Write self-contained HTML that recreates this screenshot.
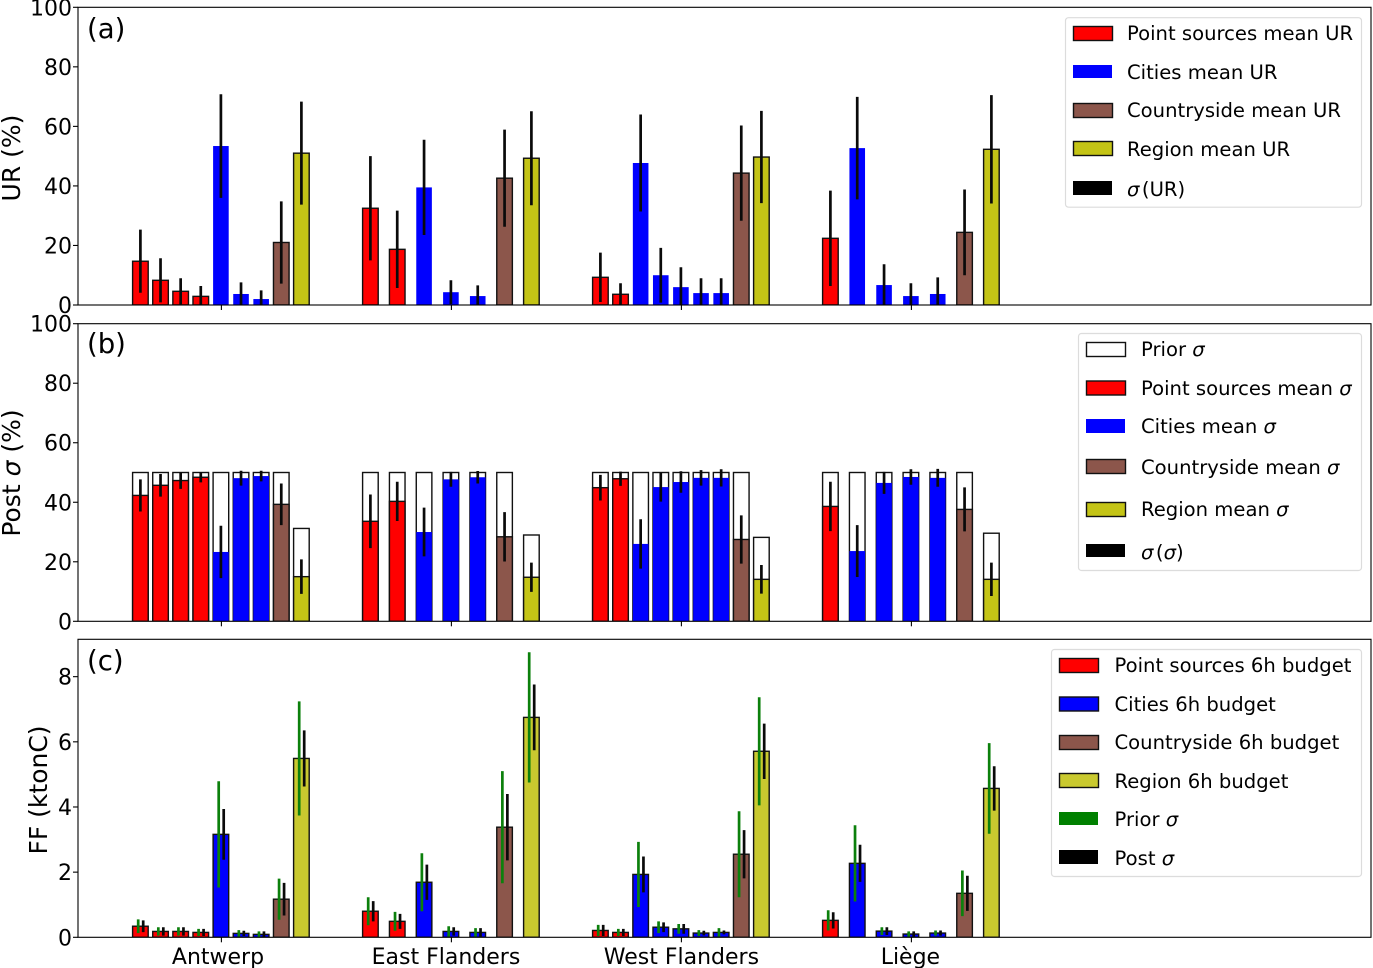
<!DOCTYPE html>
<html lang="en">
<head>
<meta charset="utf-8">
<title>UR, posterior uncertainty and fossil fuel budgets by region</title>
<style>
html,body{margin:0;padding:0;background:#fff;}
svg{display:block;font-family:"DejaVu Sans","Liberation Sans",sans-serif;filter:blur(.3px);}
.tick{font-size:22px;fill:#000;}
.lg{font-size:19.6px;fill:#000;}
.tag{font-size:27.5px;fill:#000;}
.ttl{font-size:25px;fill:#000;}
.xl{font-size:22px;fill:#000;}
.box{fill:#fff;fill-opacity:.8;stroke:#dcdcdc;stroke-width:1.2;}
.pe{stroke:#111;stroke-width:1.4;}
.it{font-style:italic;}
</style>
</head>
<body>
<svg id="chart" xmlns="http://www.w3.org/2000/svg" width="1373" height="968" viewBox="0 0 1373 968">
<defs>
<clipPath id="clip-a"><rect x="78" y="7.3" width="1293" height="297.7"/></clipPath>
<clipPath id="clip-b"><rect x="78" y="323.7" width="1293" height="297.6"/></clipPath>
<clipPath id="clip-c"><rect x="78" y="639.3" width="1293" height="298"/></clipPath>
</defs>
<g id="marks-a" clip-path="url(#clip-a)"></g>
<g id="marks-b" clip-path="url(#clip-b)"></g>
<g id="marks-c" clip-path="url(#clip-c)"></g>
<g id="axes"></g>

<text class="tag" x="87" y="38">(a)</text>
<text class="tag" x="87" y="353">(b)</text>
<text class="tag" x="87" y="670">(c)</text>

<text class="ttl" transform="translate(20,158) rotate(-90)" text-anchor="middle">UR (%)</text>
<text class="ttl" transform="translate(20,473) rotate(-90)" text-anchor="middle">Post <tspan class="it">σ</tspan> (%)</text>
<text class="ttl" transform="translate(47,790) rotate(-90)" text-anchor="middle">FF (ktonC)</text>

<g>
<rect class="box" x="1065.5" y="17.7" width="296" height="189.5" rx="3"/>
<rect class="pe" x="1073.5" y="26.5" width="39" height="14" fill="#ff0000"/>
<text class="lg" x="1127" y="40">Point sources mean UR</text>
<rect x="1073" y="65" width="39" height="13" fill="#0000ff"/>
<text class="lg" x="1127" y="79">Cities mean UR</text>
<rect class="pe" x="1073.5" y="103.5" width="39" height="14" fill="#8c564b"/>
<text class="lg" x="1127" y="117">Countryside mean UR</text>
<rect class="pe" x="1073.5" y="141.5" width="39" height="14" fill="#c4c416"/>
<text class="lg" x="1127" y="156">Region mean UR</text>
<rect x="1073" y="181" width="39" height="14" fill="#000"/>
<text class="lg" x="1127" y="196"><tspan class="it">σ</tspan><tspan dx="2.5">(UR)</tspan></text>
</g>

<g>
<rect class="box" x="1078.5" y="333.5" width="283" height="237" rx="3"/>
<rect class="pe" x="1086.5" y="342.5" width="39" height="14" fill="#fff"/>
<text class="lg" x="1141" y="356">Prior <tspan class="it">σ</tspan></text>
<rect class="pe" x="1086.5" y="381" width="39" height="14" fill="#ff0000"/>
<text class="lg" x="1141" y="395">Point sources mean <tspan class="it">σ</tspan></text>
<rect x="1086" y="419" width="39" height="14" fill="#0000ff"/>
<text class="lg" x="1141" y="433">Cities mean <tspan class="it">σ</tspan></text>
<rect class="pe" x="1086.5" y="459.5" width="39" height="14" fill="#8c564b"/>
<text class="lg" x="1141" y="474">Countryside mean <tspan class="it">σ</tspan></text>
<rect class="pe" x="1086.5" y="502.5" width="39" height="14" fill="#c4c416"/>
<text class="lg" x="1141" y="516">Region mean <tspan class="it">σ</tspan></text>
<rect x="1086" y="544" width="39" height="13" fill="#000"/>
<text class="lg" x="1141" y="559"><tspan class="it">σ</tspan><tspan dx="2.5">(</tspan><tspan class="it">σ</tspan>)</text>
</g>

<g>
<rect class="box" x="1051.5" y="649.5" width="310" height="227" rx="3"/>
<rect class="pe" x="1059.5" y="658.5" width="39" height="14" fill="#ff0000"/>
<text class="lg" x="1114.5" y="672">Point sources 6h budget</text>
<rect class="pe" x="1059.5" y="697" width="39" height="14" fill="#0000ff"/>
<text class="lg" x="1114.5" y="711">Cities 6h budget</text>
<rect class="pe" x="1059.5" y="735.5" width="39" height="14" fill="#8c564b"/>
<text class="lg" x="1114.5" y="749">Countryside 6h budget</text>
<rect class="pe" x="1059.5" y="773.5" width="39" height="14" fill="#c9c92f"/>
<text class="lg" x="1114.5" y="788">Region 6h budget</text>
<rect x="1059" y="812" width="39" height="13" fill="#008000"/>
<text class="lg" x="1114.5" y="826">Prior <tspan class="it">σ</tspan></text>
<rect x="1059" y="850" width="39" height="14" fill="#000"/>
<text class="lg" x="1114.5" y="865">Post <tspan class="it">σ</tspan></text>
</g>
</svg>

<script>
// ---- categories ----
const regions = ["Antwerp", "East Flanders", "West Flanders", "Liège"];
const barKinds = [
  ["point","point","point","point","city","city","city","country","region"],
  ["point","point","city","city","city","country","region"],
  ["point","point","city","city","city","city","city","country","region"],
  ["point","city","city","city","city","country","region"]
];

// ---- panel (a): mean uncertainty reduction, % ----
const urMean = [
  [14.7,8.3,4.6,2.9,53.4,3.7,2,21,51],
  [32.5,18.7,39.5,4.3,3,42.6,49.3],
  [9.3,3.6,47.7,10,6,4,4,44.3,49.7],
  [22.4,52.7,6.7,3,3.7,24.4,52.3]
];
const urSigma = [
  [10.6,7.4,4.4,3.5,17.4,3.9,2.9,13.8,17.3],
  [17.5,13,16,4,3.6,16.3,15.8],
  [8.3,3.7,16.3,9.2,6.7,5,5,16,15.5],
  [16,17.2,7,4.3,5.6,14.4,18.2]
];

// ---- panel (b): prior and posterior sigma, % ----
const priorSigmaPct = [
  [50,50,50,50,50,50,50,50,31.2],
  [50,50,50,50,50,50,29],
  [50,50,50,50,50,50,50,50,28.2],
  [50,50,50,50,50,50,29.6]
];
const postSigmaPct = [
  [42.3,45.7,47.3,48.4,23.3,48.1,48.8,39.3,15],
  [33.6,40.3,30,47.7,48.4,28.4,14.8],
  [44.9,47.9,26,45.1,46.8,48.2,48.2,27.5,14.1],
  [38.6,23.6,46.5,48.5,48.2,37.6,14.1]
];
const sigmaOfSigma = [
  [5.4,3.8,2.8,1.7,8.8,2.5,1.8,7,5.8],
  [9,6.6,8.2,2.5,2.1,8.3,4.9],
  [4.3,2.4,8.3,4.9,3.6,2.6,2.9,8.1,4.8],
  [8.3,8.7,3.7,2.6,3,7.4,5.6]
];

// ---- panel (c): 6h budgets, ktonC ----
const budget = [
  [0.34,0.18,0.18,0.15,3.16,0.12,0.09,1.17,5.49],
  [0.8,0.49,1.69,0.18,0.15,3.38,6.75],
  [0.21,0.15,1.93,0.31,0.26,0.13,0.15,2.55,5.71],
  [0.52,2.27,0.19,0.1,0.13,1.35,4.57]
];
const budgetPriorSigma = [
  [0.21,0.13,0.13,0.11,1.63,0.1,0.09,0.63,1.75],
  [0.43,0.29,0.89,0.16,0.13,1.72,2],
  [0.17,0.11,1,0.18,0.15,0.09,0.13,1.32,1.66],
  [0.31,1.17,0.12,0.08,0.08,0.7,1.39]
];
const budgetPostSigma = [
  [0.18,0.13,0.13,0.11,0.78,0.08,0.09,0.5,0.86],
  [0.31,0.23,0.54,0.13,0.13,1.02,1.01],
  [0.17,0.11,0.55,0.15,0.15,0.07,0.06,0.74,0.85],
  [0.25,0.57,0.12,0.08,0.08,0.54,0.68]
];

// ---- tick labels ----
const pctTicks = [0,20,40,60,80,100];
const ffTicks = [0,2,4,6,8];
const regionLabelShift = [-3.4,-5.4,0,-1];

// ---- axis functions ----
const AX_LEFT = 78, AX_RIGHT = 1371;
const BAR_W = 15.6, GROUP_SPAN = 161, BAR_OFFSET = -0.5, FIRST_TICK = 221.4, GROUP_STEP = 230;
function xGroup(g){ return FIRST_TICK + GROUP_STEP * g; }
function xBar(g, i, n){ return xGroup(g) + BAR_OFFSET + (i - (n - 1) / 2) * GROUP_SPAN / (n - 1); }
function yAxis(top, bottom, max){ return function(v){ return bottom - (bottom - top) * v / max; }; }
const yA = yAxis(7.3, 305, 100);
const yB = yAxis(323.7, 621.3, 100);
const yC = yAxis(639.3, 937.3, 9.147);

const NS = "http://www.w3.org/2000/svg";
function make(parent, tag, attrs){
  const el = document.createElementNS(NS, tag);
  for (const k in attrs) el.setAttribute(k, attrs[k]);
  parent.appendChild(el);
  return el;
}
const FILL = {point:"#ff0000", city:"#0000ff", country:"#8c564b", region:"#c4c416"};
const FILL_C = {point:"#ff0000", city:"#0000ff", country:"#8c564b", region:"#c9c92f"};

function barRect(parent, g, i, n, v, y, fill, edged){
  const x = xBar(g, i, n);
  const attrs = {x:x - BAR_W / 2, y:y(v), width:BAR_W, height:y(0) - y(v), fill:fill};
  if (edged) { attrs.stroke = "#111"; attrs["stroke-width"] = 1.4; }
  return make(parent, "rect", attrs);
}
function errLine(parent, x, v, s, y, color){
  return make(parent, "line", {x1:x, x2:x, y1:y(v - s), y2:y(v + s), stroke:color, "stroke-width":2.7});
}

const mA = document.getElementById("marks-a");
const mB = document.getElementById("marks-b");
const mC = document.getElementById("marks-c");

regions.forEach(function(region, g){
  const kinds = barKinds[g];
  const n = kinds.length;
  kinds.forEach(function(kind, i){
    // panel a
    const a = barRect(mA, g, i, n, urMean[g][i], yA, FILL[kind], kind !== "city");
    
    

    // panel b
    const p = barRect(mB, g, i, n, priorSigmaPct[g][i], yB, "#ffffff", true);
    
    
    const q = barRect(mB, g, i, n, postSigmaPct[g][i], yB, FILL[kind], kind !== "city");
    
    

    // panel c
    const c = barRect(mC, g, i, n, budget[g][i], yC, FILL_C[kind], true);
    
    
  });
  kinds.forEach(function(kind, i){
    const x = xBar(g, i, n);
    const e1 = errLine(mA, x, urMean[g][i], urSigma[g][i], yA, "#0a0a0a");
    
    
    const e2 = errLine(mB, x, postSigmaPct[g][i], sigmaOfSigma[g][i], yB, "#0a0a0a");
    
    
    const e3 = errLine(mC, x - 2.2, budget[g][i], budgetPriorSigma[g][i], yC, "#0c800c");
    
    
    const e4 = errLine(mC, x + 2.8, budget[g][i], budgetPostSigma[g][i], yC, "#0a0a0a");
    
    
  });
});

// ---- axes ----
const axesLayer = document.getElementById("axes");
function drawAxes(top, bottom, y, ticks, panelKey){
  const frame = make(axesLayer, "rect", {x:AX_LEFT, y:top, width:AX_RIGHT - AX_LEFT, height:bottom - top, fill:"none", stroke:"#000", "stroke-width":1.1});
  
  
  ticks.forEach(function(t){
    const m = make(axesLayer, "line", {x1:AX_LEFT - 5, x2:AX_LEFT, y1:y(t), y2:y(t), stroke:"#000", "stroke-width":1.1});
    
    
    const lab = make(axesLayer, "text", {x:AX_LEFT - 6, y:y(t) + 8, "text-anchor":"end", class:"tick"});
    lab.textContent = String(t);
    
    
  });
  regions.forEach(function(r, g){
    const m = make(axesLayer, "line", {x1:xGroup(g), x2:xGroup(g), y1:bottom, y2:bottom + 5, stroke:"#000", "stroke-width":1.1});
    
    
  });
}
drawAxes(7.3, 305, yA, pctTicks, "a");
drawAxes(323.7, 621.3, yB, pctTicks, "b");
drawAxes(639.3, 937.3, yC, ffTicks, "c");

regions.forEach(function(r, g){
  const lab = make(axesLayer, "text", {x:xGroup(g) + regionLabelShift[g], y:964, "text-anchor":"middle", class:"xl"});
  lab.textContent = r;
  
  
});
</script>
</body>
</html>
